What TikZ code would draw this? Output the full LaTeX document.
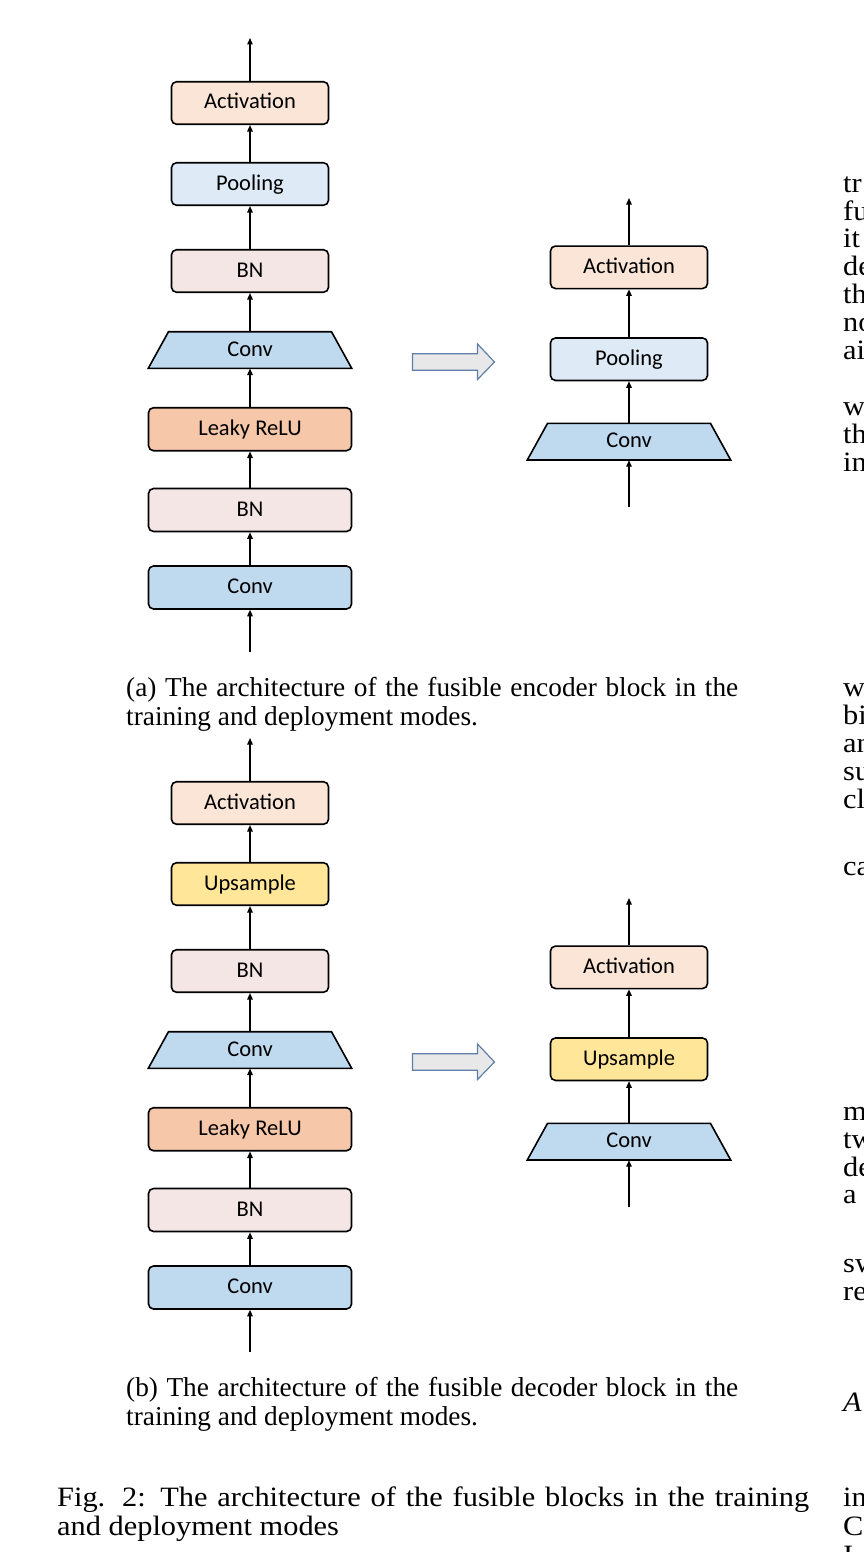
\documentclass[tikz,border=0pt]{standalone}
\usepackage{fontspec}
\setmainfont{Liberation Serif}
\newfontfamily\boxfont{Carlito}
\newfontfamily\bodyfont[FakeStretch=1.085]{Liberation Serif}
\usetikzlibrary{arrows.meta}
\definecolor{actfill}{HTML}{FBE5D6}
\definecolor{poolfill}{HTML}{DEEBF7}
\definecolor{bnfill}{HTML}{F5E6E6}
\definecolor{convfill}{HTML}{BFD9EF}
\definecolor{leakyfill}{HTML}{F6C7A8}
\definecolor{upfill}{HTML}{FFE699}
\definecolor{bigarrowfill}{HTML}{E8E8E8}
\definecolor{bigarrowline}{HTML}{5F7FA8}
\newcommand\convat[3]{%
  \path[convshape] (#2-81.5,#3-18.3) -- (#2+81.5,#3-18.3) -- (#2+101.7,#3+18.3) -- (#2-101.7,#3+18.3) -- cycle;
  \node[convlabel] (#1) at (#2,#3) {Conv};}
\newcommand\bigarrowat[1]{%
  \path[bigarrow] (412.5,#1-8.2) -- (477.5,#1-8.2) -- (477.5,#1-18) -- (494.5,#1) -- (477.5,#1+17.5) -- (477.5,#1+8.3) -- (412.5,#1+8.3) -- cycle;}
\tikzset{
  blk/.style={draw=black, line width=1.6pt, rounded corners=5pt, inner sep=0pt,
    font=\boxfont\fontsize{22.5}{24}\selectfont, text height=16pt, text depth=4pt},
  narrowblk/.style={blk, minimum width=157pt, minimum height=42.5pt},
  wideblk/.style={blk, minimum width=203pt, minimum height=43pt},
  convshape/.style={fill=convfill, draw=black, line width=1.6pt, line join=miter},
  convlabel/.style={inner sep=0pt, minimum width=203pt, minimum height=36.6pt,
    font=\boxfont\fontsize{22.5}{24}\selectfont, text height=16pt, text depth=4pt},
  arr/.style={draw=black, line width=1.3pt, -{Triangle[length=6.5pt,width=5.5pt]}},
  bigarrow/.style={fill=bigarrowfill, draw=bigarrowline, line width=1.2pt, line join=miter},
  captext/.style={inner sep=0pt, anchor=base west, font=\fontsize{27.3}{28.5}\selectfont},
  figtext/.style={inner sep=0pt, anchor=base west, font=\bodyfont\fontsize{28}{29}\selectfont},
  coltext/.style={inner sep=0pt, anchor=base west, font=\bodyfont\fontsize{28}{29}\selectfont},
}
\begin{document}
\begin{tikzpicture}[x=1pt,y=-1pt]
\useasboundingbox (0,0) rectangle (864,1552);
\fill[white] (0,0) rectangle (864,1552);

% ---------------- (a) encoder, training mode
\coordinate (ein) at (250,652);
\coordinate (eout) at (250,38);
\node[wideblk, fill=convfill] (econv1) at (250,587.5) {Conv};
\node[wideblk, fill=bnfill] (ebn1) at (250,510) {BN};
\node[wideblk, fill=leakyfill] (eleaky) at (250,429.2) {Leaky ReLU};
\convat{econv2}{250}{350}
\node[narrowblk, fill=bnfill] (ebn2) at (250,271) {BN};
\node[narrowblk, fill=poolfill] (epool) at (250,184) {Pooling};
\node[narrowblk, fill=actfill] (eact) at (250,103) {Activation};
\draw[arr] (ein) -- (econv1.south);
\draw[arr] (econv1.north) -- (ebn1.south);
\draw[arr] (ebn1.north) -- (eleaky.south);
\draw[arr] (eleaky.north) -- (econv2.south);
\draw[arr] (econv2.north) -- (ebn2.south);
\draw[arr] (ebn2.north) -- (epool.south);
\draw[arr] (epool.north) -- (eact.south);
\draw[arr] (eact.north) -- (eout);

\bigarrowat{362}

% (a) encoder, deployment mode
\coordinate (din) at (629,507);
\coordinate (dout) at (629,198);
\convat{dconv}{629}{441.7}
\node[narrowblk, fill=poolfill] (dpool) at (629,359.2) {Pooling};
\node[narrowblk, fill=actfill] (dact) at (629,267.3) {Activation};
\draw[arr] (din) -- (dconv.south);
\draw[arr] (dconv.north) -- (dpool.south);
\draw[arr] (dpool.north) -- (dact.south);
\draw[arr] (dact.north) -- (dout);

\node[captext] (capa1) at (126,696.7) {\hbox to 612pt{(a) The architecture of the fusible encoder block in the}};
\node[captext] (capa2) at (126,725.2) {training and deployment modes.};

% ---------------- (b) decoder, training mode
\coordinate (fin) at (250,1352);
\coordinate (fout) at (250,738);
\node[wideblk, fill=convfill] (fconv1) at (250,1287.5) {Conv};
\node[wideblk, fill=bnfill] (fbn1) at (250,1210) {BN};
\node[wideblk, fill=leakyfill] (fleaky) at (250,1129.2) {Leaky ReLU};
\convat{fconv2}{250}{1050}
\node[narrowblk, fill=bnfill] (fbn2) at (250,971) {BN};
\node[narrowblk, fill=upfill] (fup) at (250,884) {Upsample};
\node[narrowblk, fill=actfill] (fact) at (250,803) {Activation};
\draw[arr] (fin) -- (fconv1.south);
\draw[arr] (fconv1.north) -- (fbn1.south);
\draw[arr] (fbn1.north) -- (fleaky.south);
\draw[arr] (fleaky.north) -- (fconv2.south);
\draw[arr] (fconv2.north) -- (fbn2.south);
\draw[arr] (fbn2.north) -- (fup.south);
\draw[arr] (fup.north) -- (fact.south);
\draw[arr] (fact.north) -- (fout);

\bigarrowat{1062}

% (b) decoder, deployment mode
\coordinate (gin) at (629,1207);
\coordinate (gout) at (629,898);
\convat{gconv}{629}{1141.7}
\node[narrowblk, fill=upfill] (gup) at (629,1059.2) {Upsample};
\node[narrowblk, fill=actfill] (gact) at (629,967.3) {Activation};
\draw[arr] (gin) -- (gconv.south);
\draw[arr] (gconv.north) -- (gup.south);
\draw[arr] (gup.north) -- (gact.south);
\draw[arr] (gact.north) -- (gout);

\node[captext] (capb1) at (126,1396.7) {\hbox to 612pt{(b) The architecture of the fusible decoder block in the}};
\node[captext] (capb2) at (126,1425.2) {training and deployment modes.};

% figure caption
\node[figtext] (fig1) at (57,1506) {\hbox to 752pt{Fig. 2: The architecture of the fusible blocks in the training}};
\node[figtext] (fig2) at (57,1535) {and deployment modes};

% neighbouring column, cut at the page edge
\node[coltext] (r1) at (843,192) {tr};
\node[coltext] (r2) at (843,220) {fu};
\node[coltext] (r3) at (843,247.5) {it};
\node[coltext] (r4) at (843,275.5) {de};
\node[coltext] (r5) at (843,303.5) {th};
\node[coltext] (r6) at (843,331) {no};
\node[coltext] (r7) at (843,359) {ai};
\node[coltext] (r8) at (843,415) {w};
\node[coltext] (r9) at (843,443) {th};
\node[coltext] (r10) at (843,471) {in};
\node[coltext] (r11) at (843,696.5) {w};
\node[coltext] (r12) at (843,724.5) {bi};
\node[coltext] (r13) at (843,752.5) {an};
\node[coltext] (r14) at (843,780.5) {su};
\node[coltext] (r15) at (843,808.5) {cl};
\node[coltext] (r16) at (843,875.5) {ca};
\node[coltext] (r17) at (843,1120) {m};
\node[coltext] (r18) at (843,1148) {tw};
\node[coltext] (r19) at (843,1176) {de};
\node[coltext] (r20) at (843,1203.5) {a};
\node[coltext] (r21) at (843,1272) {sw};
\node[coltext] (r22) at (843,1300) {re};
\node[coltext] (r23) at (843,1411) {\itshape A};
\node[coltext] (r24) at (843,1506) {in};
\node[coltext] (r25) at (843,1535) {C};
\node[coltext] (r26) at (843,1564) {I};
\end{tikzpicture}
\end{document}
